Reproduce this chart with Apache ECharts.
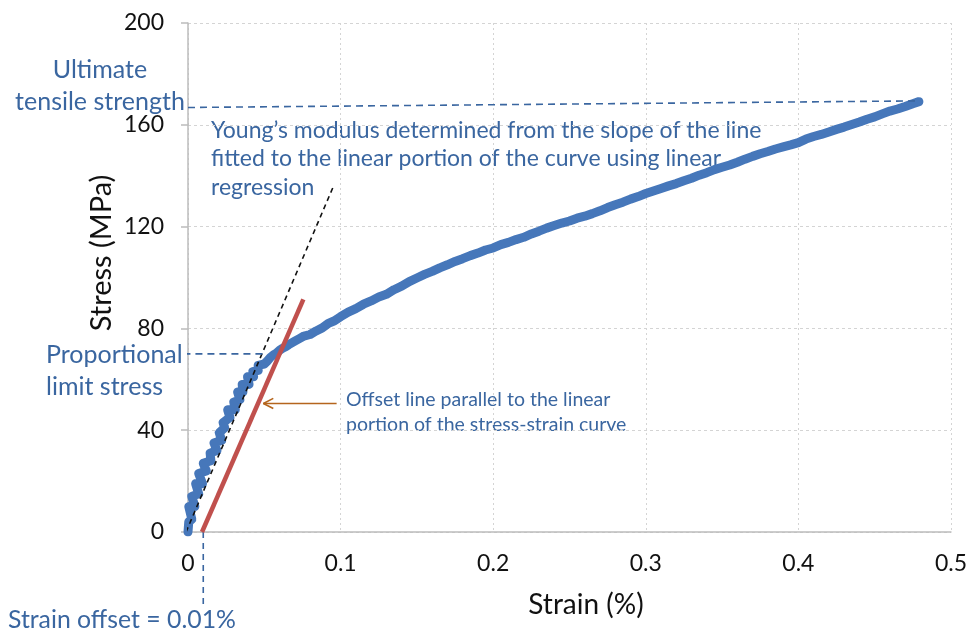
<!DOCTYPE html>
<html>
<head>
<meta charset="utf-8">
<script src="https://cdn.jsdelivr.net/npm/echarts@6/dist/echarts.min.js"></script>
<style>
  html, body { margin: 0; padding: 0; background: #ffffff; }
  #chart { width: 970px; height: 633px; }
</style>
</head>
<body>
<div id="chart"></div>
<script>
// Tensile test: measured stress-strain curve (strain in %, stress in MPa).
// The early, noisy part of the record zig-zags back and forth.
const strain = [
  0, 0.0005, 0.0025, 0.0005, 0.0045, 0.0025, 0.007, 0.005, 0.0095, 0.007, 0.012, 0.010,
  0.015, 0.0145, 0.019, 0.017, 0.022, 0.0205, 0.024, 0.023, 0.0275, 0.026, 0.031, 0.030,
  0.034, 0.0325, 0.036, 0.0355, 0.040, 0.039, 0.043, 0.0425, 0.046, 0.046, 0.050, 0.052,
  0.054, 0.056, 0.058, 0.060, 0.062, 0.064, 0.066,
  0.068, 0.070, 0.073, 0.076, 0.080, 0.084, 0.088, 0.092, 0.096, 0.100, 0.105, 0.110,
  0.115, 0.120, 0.125, 0.130, 0.135, 0.140, 0.145, 0.150, 0.155, 0.160, 0.165, 0.170,
  0.175, 0.180, 0.185, 0.190, 0.195, 0.200, 0.205, 0.210, 0.215, 0.220, 0.225, 0.230,
  0.235, 0.240, 0.245, 0.250, 0.255, 0.260, 0.265, 0.270, 0.275, 0.280, 0.285, 0.290,
  0.295, 0.300, 0.305, 0.310, 0.315, 0.320, 0.325, 0.330, 0.335, 0.340, 0.345, 0.350,
  0.355, 0.360, 0.365, 0.370, 0.375, 0.380, 0.385, 0.390, 0.395, 0.400, 0.405, 0.410,
  0.415, 0.420, 0.425, 0.430, 0.435, 0.440, 0.445, 0.450, 0.455, 0.460, 0.465, 0.470,
  0.475, 0.479
];
const stress = [
  0, 4, 5, 10, 10, 14, 15, 19, 19, 23, 24, 27,
  28, 31, 32, 35, 36, 39, 41, 43, 45, 48, 48, 51,
  52, 55, 55, 58, 58, 61, 61, 63, 63.5, 65.5, 66, 67.2,
  68.6, 69.6, 70.3, 71.4, 72.2, 72.8, 73.6,
  74.3, 75, 76, 77, 77.6, 79, 80.2, 82, 83, 84.6, 86.4, 87.8,
  89.5, 90.8, 92.3, 93.4, 95.2, 96.6, 98.4, 99.8, 101.2, 102.4, 103.8, 105.0,
  106.3, 107.4, 108.6, 109.6, 110.8, 111.6, 112.9, 113.8, 114.9, 115.8, 117.1, 118.2,
  119.4, 120.4, 121.4, 122.2, 123.3, 124.1, 125.1, 126.2, 127.5, 128.6, 129.6, 130.8,
  131.8, 133.0, 134.0, 135.0, 136.0, 136.9, 138.0, 139.0, 140.2, 141.2, 142.4, 143.3,
  144.2, 145.3, 146.5, 147.6, 148.6, 149.5, 150.5, 151.3, 152.1, 153.0, 154.4, 155.4,
  156.2, 157.2, 158.2, 159.1, 160.1, 161.1, 162.2, 163.1, 164.3, 165.4, 166.2, 167.2,
  168.3, 169.1
];

// Axis ticks
const strainTicks = [0, 0.1, 0.2, 0.3, 0.4, 0.5];
const stressTicks = [0, 40, 80, 120, 160, 200];

// Construction lines (strain, stress)
const youngsFit = [[-0.0013, 0], [0.0952, 135.7]];
const offsetLine = [[0.0092, 0], [0.0756, 91.4]];
const utsGuide = [[0, 166.8], [0.4786, 169.4]];
const proportionalGuide = [[-0.003, 70], [0.049, 70]];
const strainOffset = 0.01;
const strainOffsetGuide = [[strainOffset, 0], [strainOffset, -30]];
const arrowShaft = [[0.0974, 50.5], [0.0494, 50.5]];
const arrowHead = [[0.0559, 52.5], [0.0494, 50.5], [0.0559, 48.5]];

const curveData = strain.map((s, i) => [s, stress[i]]);

const FONT = 'Lato';
const NOTE = '#3a66a0';

const chart = echarts.init(document.getElementById('chart'), null, { renderer: 'canvas' });

function guide(data, color, width, type, z) {
  return {
    type: 'line', data: data, symbol: 'none', clip: false, silent: true, z: z,
    lineStyle: { color: color, width: width, type: type }
  };
}

chart.setOption({
  animation: false,
  backgroundColor: '#ffffff',
  grid: { left: 188, right: 17, top: 23, bottom: 101, containLabel: false },
  xAxis: {
    type: 'value', min: strainTicks[0], max: strainTicks[strainTicks.length - 1], interval: 0.1,
    axisLine: { show: true, onZero: false, lineStyle: { color: '#bcbcbc', width: 1.5 } },
    axisTick: { show: false },
    axisLabel: { fontFamily: FONT, fontSize: 23, color: '#111', margin: 20,
      formatter: v => String(+v.toFixed(1)) },
    splitLine: { show: true, lineStyle: { color: '#d4d4d4', type: [2, 3], width: 1 } }
  },
  yAxis: {
    type: 'value', min: stressTicks[0], max: stressTicks[stressTicks.length - 1], interval: 40,
    axisLine: { show: true, lineStyle: { color: '#bcbcbc', width: 1.5 } },
    axisTick: { show: true, inside: false, length: 7, lineStyle: { color: '#bcbcbc', width: 1.5 } },
    axisLabel: { fontFamily: FONT, fontSize: 23, color: '#111', margin: 24 },
    splitLine: { show: true, lineStyle: { color: '#d4d4d4', type: [3, 3], width: 1 } }
  },
  series: [
    {
      name: 'Stress-strain', type: 'line', data: curveData, symbol: 'none', z: 2,
      lineStyle: { color: '#4677ba', width: 9, cap: 'round', join: 'round' }
    },
    guide(youngsFit, '#111111', 1.6, [5, 4], 3),
    guide(offsetLine, '#c0504d', 4.5, 'solid', 4),
    guide(utsGuide, NOTE, 1.6, [7, 5], 3),
    guide(proportionalGuide, NOTE, 1.6, [7, 5], 3),
    guide(strainOffsetGuide, NOTE, 1.6, [6, 5], 3),
    guide(arrowShaft, '#b5651d', 1.6, 'solid', 5),
    guide(arrowHead, '#b5651d', 1.6, 'solid', 5)
  ],
  graphic: [
    // axis titles
    { type: 'text', x: 102, y: 253, rotation: Math.PI / 2, silent: true,
      style: { text: 'Stress (MPa)', fill: '#111', font: '29px ' + FONT,
        textAlign: 'center', textVerticalAlign: 'middle' } },
    { type: 'text', x: 586, y: 605, silent: true,
      style: { text: 'Strain (%)', fill: '#111', font: '28px ' + FONT,
        textAlign: 'center', textVerticalAlign: 'middle' } },
    // annotations
    { type: 'text', x: 100, y: 54, silent: true,
      style: { text: 'Ultimate\ntensile strength', fill: NOTE, font: '25px ' + FONT,
        textAlign: 'center', lineHeight: 32 } },
    { type: 'text', x: 211, y: 116, silent: true,
      style: { text: 'Young\u2019s modulus determined from the slope of the line\nfitted to the linear portion of the curve using linear\nregression',
        fill: NOTE, font: '23px ' + FONT, lineHeight: 28.7 } },
    { type: 'text', x: 46, y: 339, silent: true,
      style: { text: 'Proportional\nlimit stress', fill: NOTE, font: '25px ' + FONT, lineHeight: 32 } },
    { type: 'text', x: 346, y: 387.5, silent: true,
      style: { text: 'Offset line parallel to the linear\nportion of the stress-strain curve', fill: NOTE,
        font: '19.5px ' + FONT, lineHeight: 25 } },
    { type: 'text', x: 8, y: 604, silent: true,
      style: { text: 'Strain offset = 0.01%', fill: NOTE, font: '24.8px ' + FONT, lineHeight: 32 } }
  ]
});
</script>
</body>
</html>
